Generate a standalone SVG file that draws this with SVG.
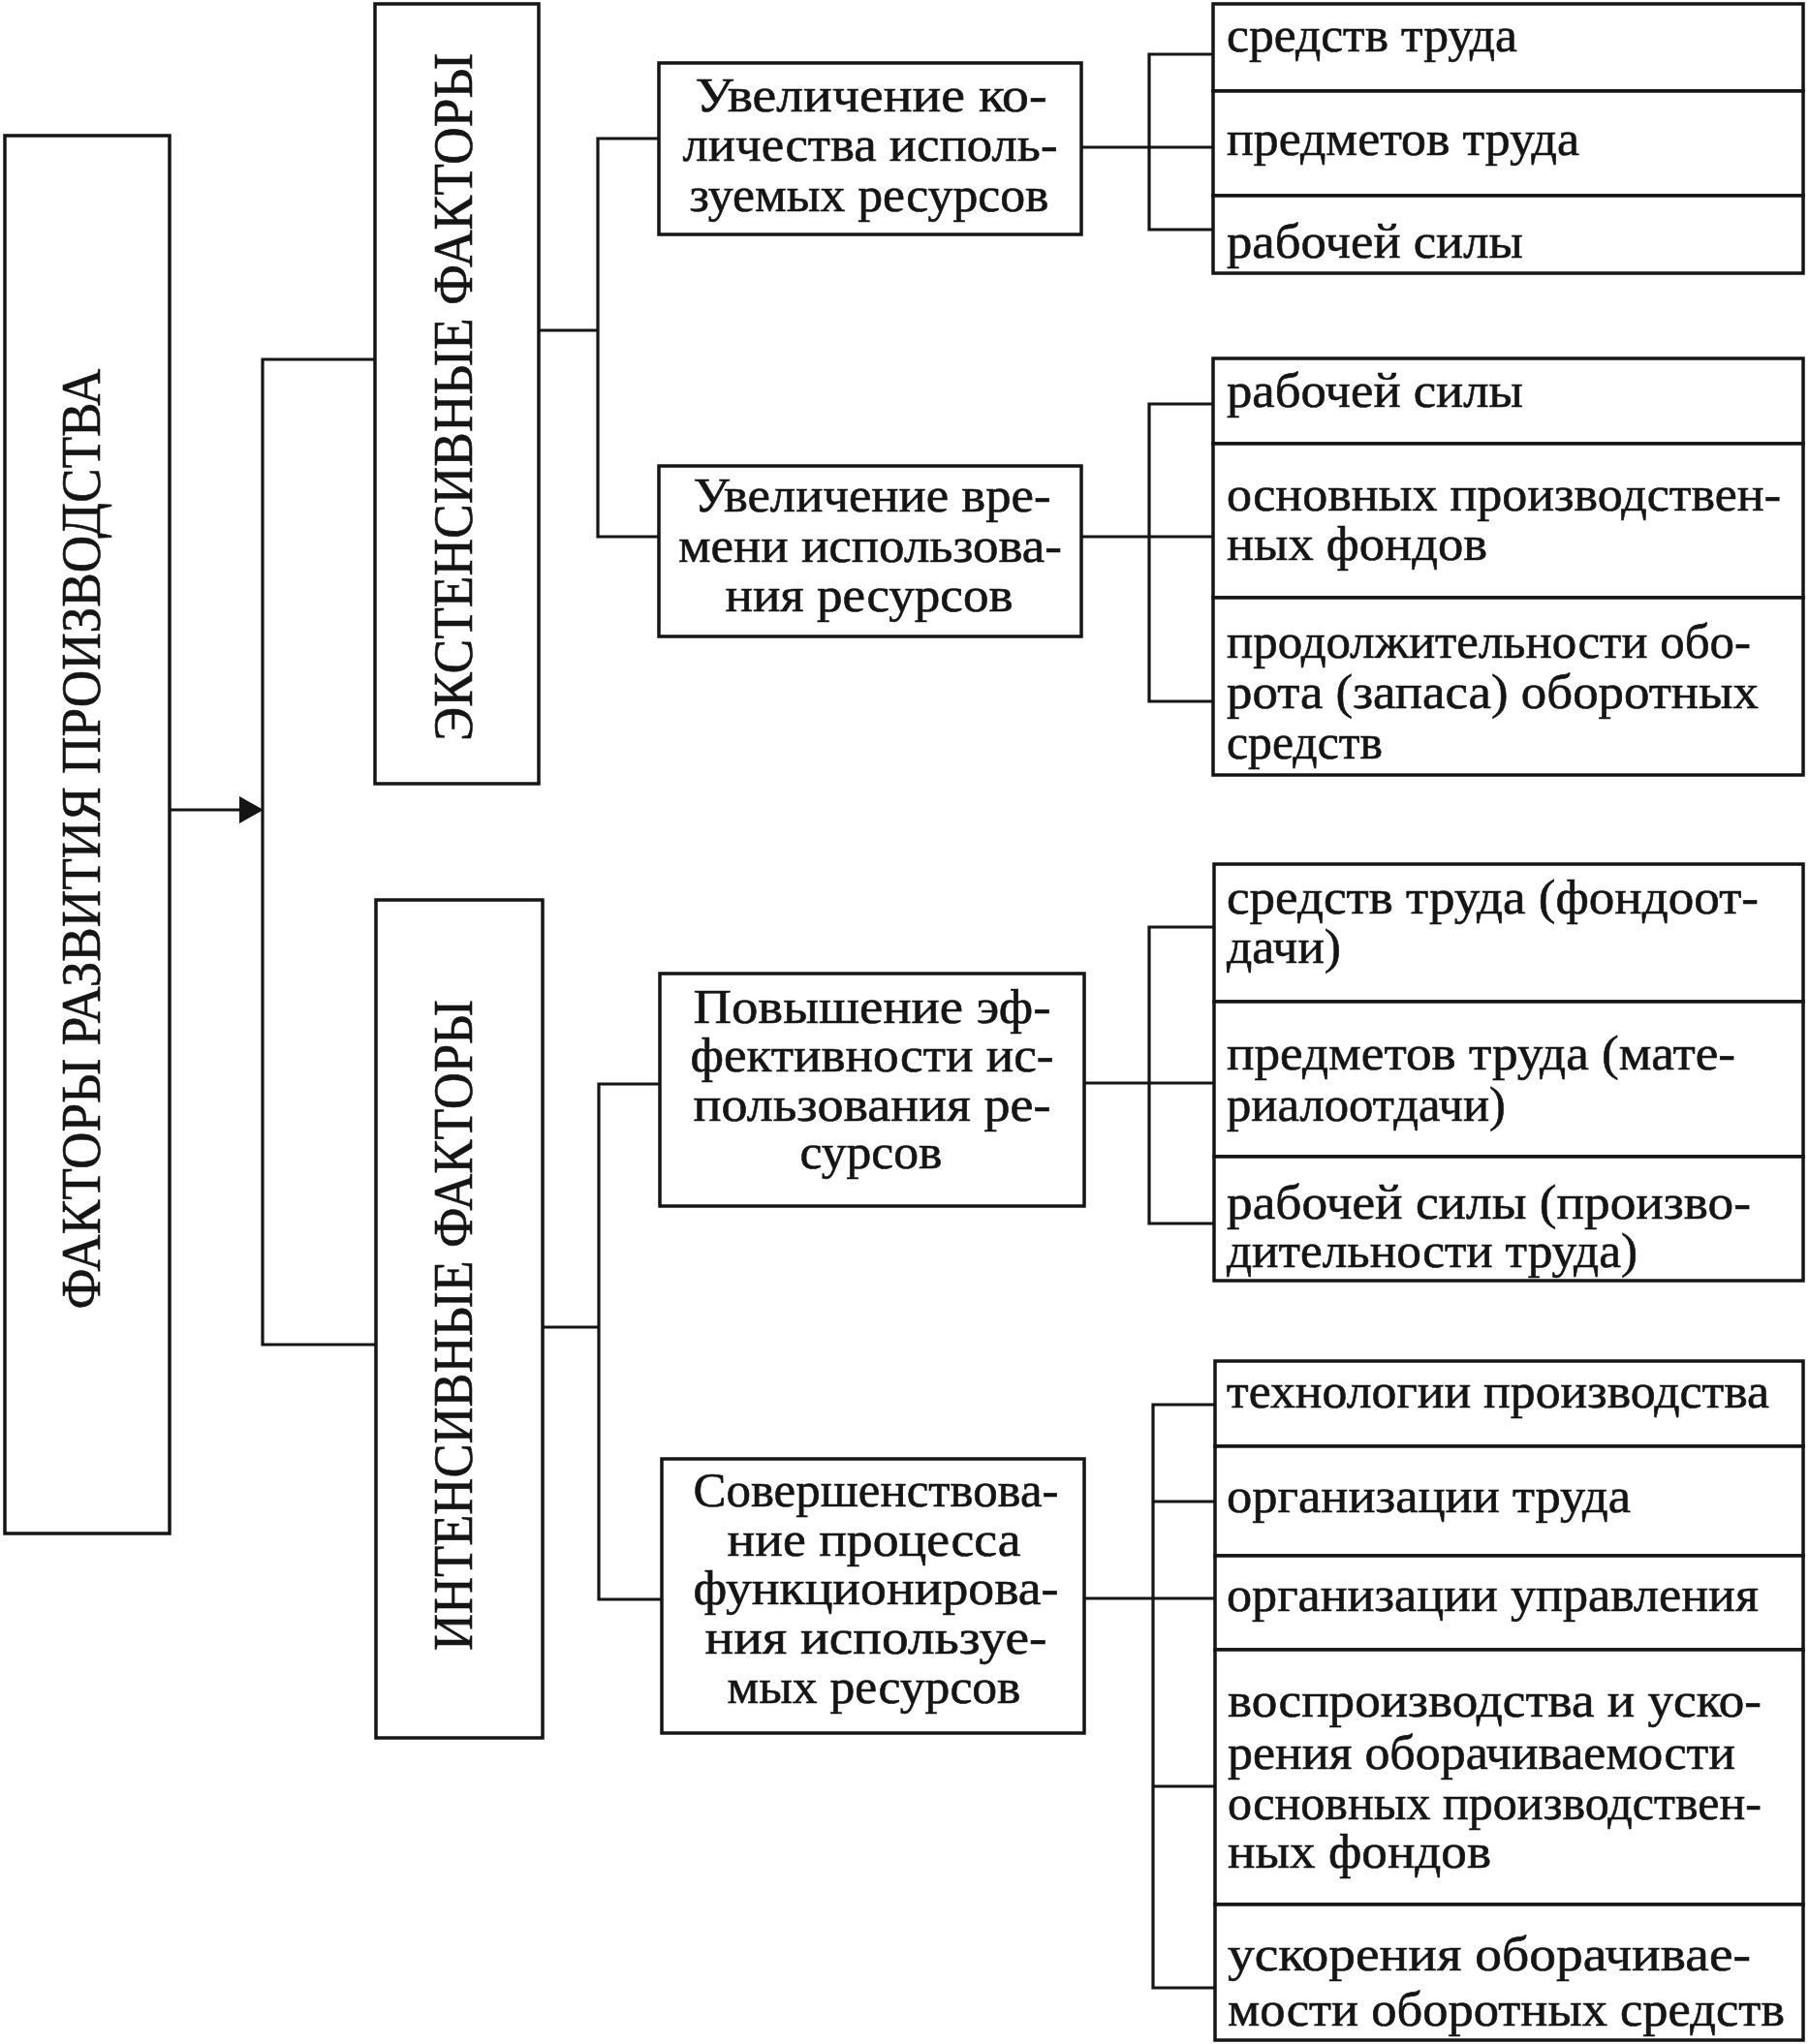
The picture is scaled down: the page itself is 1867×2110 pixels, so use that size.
<svg xmlns="http://www.w3.org/2000/svg" width="1867" height="2110" viewBox="0 0 1867 2110">
<style>
.box{fill:#fff;stroke:#151515;stroke-width:3.5}
.ln{fill:none;stroke:#151515;stroke-width:3.2}
.t{font-family:"Liberation Serif","Times New Roman",serif;font-size:50px;fill:#151515;stroke:#151515;stroke-width:0.6}
.c{text-anchor:middle}
.v{font-family:"Liberation Serif","Times New Roman",serif;font-size:58px;fill:#151515;stroke:#151515;stroke-width:0.6;text-anchor:middle}
</style>
<rect width="1867" height="2110" fill="#fff"/>
<g id="connectors">
<path class="ln" d="M176 836 H250"/>
<polygon points="247,822 272,836 247,850" fill="#151515"/>
<path class="ln" d="M387 371 H271 V1388 H388"/>
<path class="ln" d="M556 341 H617"/>
<path class="ln" d="M680 143 H617 V554 H680"/>
<path class="ln" d="M560 1370 H618"/>
<path class="ln" d="M682 1119 H618 V1651 H682"/>
<path class="ln" d="M1116 152 H1252"/>
<path class="ln" d="M1252 56 H1186 V237 H1252"/>
<path class="ln" d="M1116 554 H1252"/>
<path class="ln" d="M1252 417 H1186 V724 H1252"/>
<path class="ln" d="M1119 1118 H1253"/>
<path class="ln" d="M1253 957 H1186 V1263 H1253"/>
<path class="ln" d="M1119 1650 H1254"/>
<path class="ln" d="M1254 1450 H1190 V2052 H1254"/>
<path class="ln" d="M1190 1550 H1254 M1190 1844 H1254"/>
</g>
<g id="main">
<rect class="box" x="5" y="140" width="170" height="1443"/>
<text class="v" transform="translate(103,866) rotate(-90)" textLength="971" lengthAdjust="spacingAndGlyphs">ФАКТОРЫ  РАЗВИТИЯ  ПРОИЗВОДСТВА</text>
</g>
<g id="extensive">
<rect class="box" x="387" y="4" width="169" height="805"/>
<text class="v" transform="translate(487,410) rotate(-90)" textLength="710" lengthAdjust="spacingAndGlyphs">ЭКСТЕНСИВНЫЕ  ФАКТОРЫ</text>
</g>
<g id="intensive">
<rect class="box" x="388" y="929" width="172" height="865"/>
<text class="v" transform="translate(487,1368) rotate(-90)" textLength="672" lengthAdjust="spacingAndGlyphs">ИНТЕНСИВНЫЕ  ФАКТОРЫ</text>
</g>
<g id="m1">
<rect class="box" x="680" y="65" width="436" height="177"/>
<text class="t c" x="899" y="115" textLength="363" lengthAdjust="spacingAndGlyphs">Увеличение  ко-</text>
<text class="t c" x="898" y="166" textLength="387" lengthAdjust="spacingAndGlyphs">личества  исполь-</text>
<text class="t c" x="897" y="218" textLength="371" lengthAdjust="spacingAndGlyphs">зуемых  ресурсов</text>
</g>
<g id="m2">
<rect class="box" x="680" y="481" width="436" height="176"/>
<text class="t c" x="900" y="528" textLength="369" lengthAdjust="spacingAndGlyphs">Увеличение  вре-</text>
<text class="t c" x="898" y="580" textLength="396" lengthAdjust="spacingAndGlyphs">мени  использова-</text>
<text class="t c" x="897" y="631" textLength="297" lengthAdjust="spacingAndGlyphs">ния  ресурсов</text>
</g>
<g id="m3">
<rect class="box" x="681" y="1005" width="438" height="240"/>
<text class="t c" x="900" y="1056" textLength="369" lengthAdjust="spacingAndGlyphs">Повышение  эф-</text>
<text class="t c" x="900" y="1106" textLength="375" lengthAdjust="spacingAndGlyphs">фективности  ис-</text>
<text class="t c" x="900" y="1157" textLength="369" lengthAdjust="spacingAndGlyphs">пользования  ре-</text>
<text class="t c" x="899" y="1206" textLength="147" lengthAdjust="spacingAndGlyphs">сурсов</text>
</g>
<g id="m4">
<rect class="box" x="683" y="1506" width="436" height="283"/>
<text class="t c" x="904" y="1555" textLength="377" lengthAdjust="spacingAndGlyphs">Совершенствова-</text>
<text class="t c" x="902" y="1606" textLength="303" lengthAdjust="spacingAndGlyphs">ние  процесса</text>
<text class="t c" x="904" y="1656" textLength="377" lengthAdjust="spacingAndGlyphs">функционирова-</text>
<text class="t c" x="904" y="1707" textLength="353" lengthAdjust="spacingAndGlyphs">ния  используе-</text>
<text class="t c" x="902" y="1758" textLength="303" lengthAdjust="spacingAndGlyphs">мых  ресурсов</text>
</g>
<g id="r1a"><rect class="box" x="1252" y="4" width="609" height="90"/>
<text class="t" x="1266" y="53" textLength="300" lengthAdjust="spacingAndGlyphs">средств  труда</text></g>
<g id="r1b"><rect class="box" x="1252" y="94" width="609" height="108"/>
<text class="t" x="1266" y="160" textLength="364" lengthAdjust="spacingAndGlyphs">предметов  труда</text></g>
<g id="r1c"><rect class="box" x="1252" y="202" width="609" height="80"/>
<text class="t" x="1266" y="266" textLength="306" lengthAdjust="spacingAndGlyphs">рабочей  силы</text></g>
<g id="r2a"><rect class="box" x="1252" y="370" width="609" height="88"/>
<text class="t" x="1266" y="420" textLength="306" lengthAdjust="spacingAndGlyphs">рабочей  силы</text></g>
<g id="r2b"><rect class="box" x="1252" y="458" width="609" height="159"/>
<text class="t" x="1266" y="527" textLength="572" lengthAdjust="spacingAndGlyphs">основных  производствен-</text>
<text class="t" x="1266" y="578" textLength="269" lengthAdjust="spacingAndGlyphs">ных  фондов</text></g>
<g id="r2c"><rect class="box" x="1252" y="617" width="609" height="183"/>
<text class="t" x="1266" y="679" textLength="541" lengthAdjust="spacingAndGlyphs">продолжительности  обо-</text>
<text class="t" x="1266" y="731" textLength="549" lengthAdjust="spacingAndGlyphs">рота  (запаса)  оборотных</text>
<text class="t" x="1266" y="783" textLength="161" lengthAdjust="spacingAndGlyphs">средств</text></g>
<g id="r3a"><rect class="box" x="1253" y="892" width="608" height="142"/>
<text class="t" x="1266" y="943" textLength="549" lengthAdjust="spacingAndGlyphs">средств  труда  (фондоот-</text>
<text class="t" x="1266" y="994" textLength="118" lengthAdjust="spacingAndGlyphs">дачи)</text></g>
<g id="r3b"><rect class="box" x="1253" y="1034" width="608" height="160"/>
<text class="t" x="1266" y="1104" textLength="525" lengthAdjust="spacingAndGlyphs">предметов  труда  (мате-</text>
<text class="t" x="1266" y="1157" textLength="288" lengthAdjust="spacingAndGlyphs">риалоотдачи)</text></g>
<g id="r3c"><rect class="box" x="1253" y="1194" width="608" height="128"/>
<text class="t" x="1266" y="1258" textLength="541" lengthAdjust="spacingAndGlyphs">рабочей  силы  (произво-</text>
<text class="t" x="1266" y="1308" textLength="424" lengthAdjust="spacingAndGlyphs">дительности  труда)</text></g>
<g id="r4a"><rect class="box" x="1254" y="1405" width="607" height="88"/>
<text class="t" x="1266" y="1453" textLength="560" lengthAdjust="spacingAndGlyphs">технологии  производства</text></g>
<g id="r4b"><rect class="box" x="1254" y="1493" width="607" height="113"/>
<text class="t" x="1266" y="1561" textLength="417" lengthAdjust="spacingAndGlyphs">организации  труда</text></g>
<g id="r4c"><rect class="box" x="1254" y="1606" width="607" height="97"/>
<text class="t" x="1266" y="1663" textLength="549" lengthAdjust="spacingAndGlyphs">организации  управления</text></g>
<g id="r4d"><rect class="box" x="1254" y="1703" width="607" height="263"/>
<text class="t" x="1267" y="1772" textLength="551" lengthAdjust="spacingAndGlyphs">воспроизводства  и  уско-</text>
<text class="t" x="1267" y="1826" textLength="524" lengthAdjust="spacingAndGlyphs">рения  оборачиваемости</text>
<text class="t" x="1267" y="1878" textLength="551" lengthAdjust="spacingAndGlyphs">основных  производствен-</text>
<text class="t" x="1267" y="1928" textLength="272" lengthAdjust="spacingAndGlyphs">ных  фондов</text></g>
<g id="r4e"><rect class="box" x="1254" y="1966" width="607" height="140"/>
<text class="t" x="1267" y="2034" textLength="540" lengthAdjust="spacingAndGlyphs">ускорения   оборачивае-</text>
<text class="t" x="1267" y="2091" textLength="575" lengthAdjust="spacingAndGlyphs">мости  оборотных  средств</text></g>
</svg>
